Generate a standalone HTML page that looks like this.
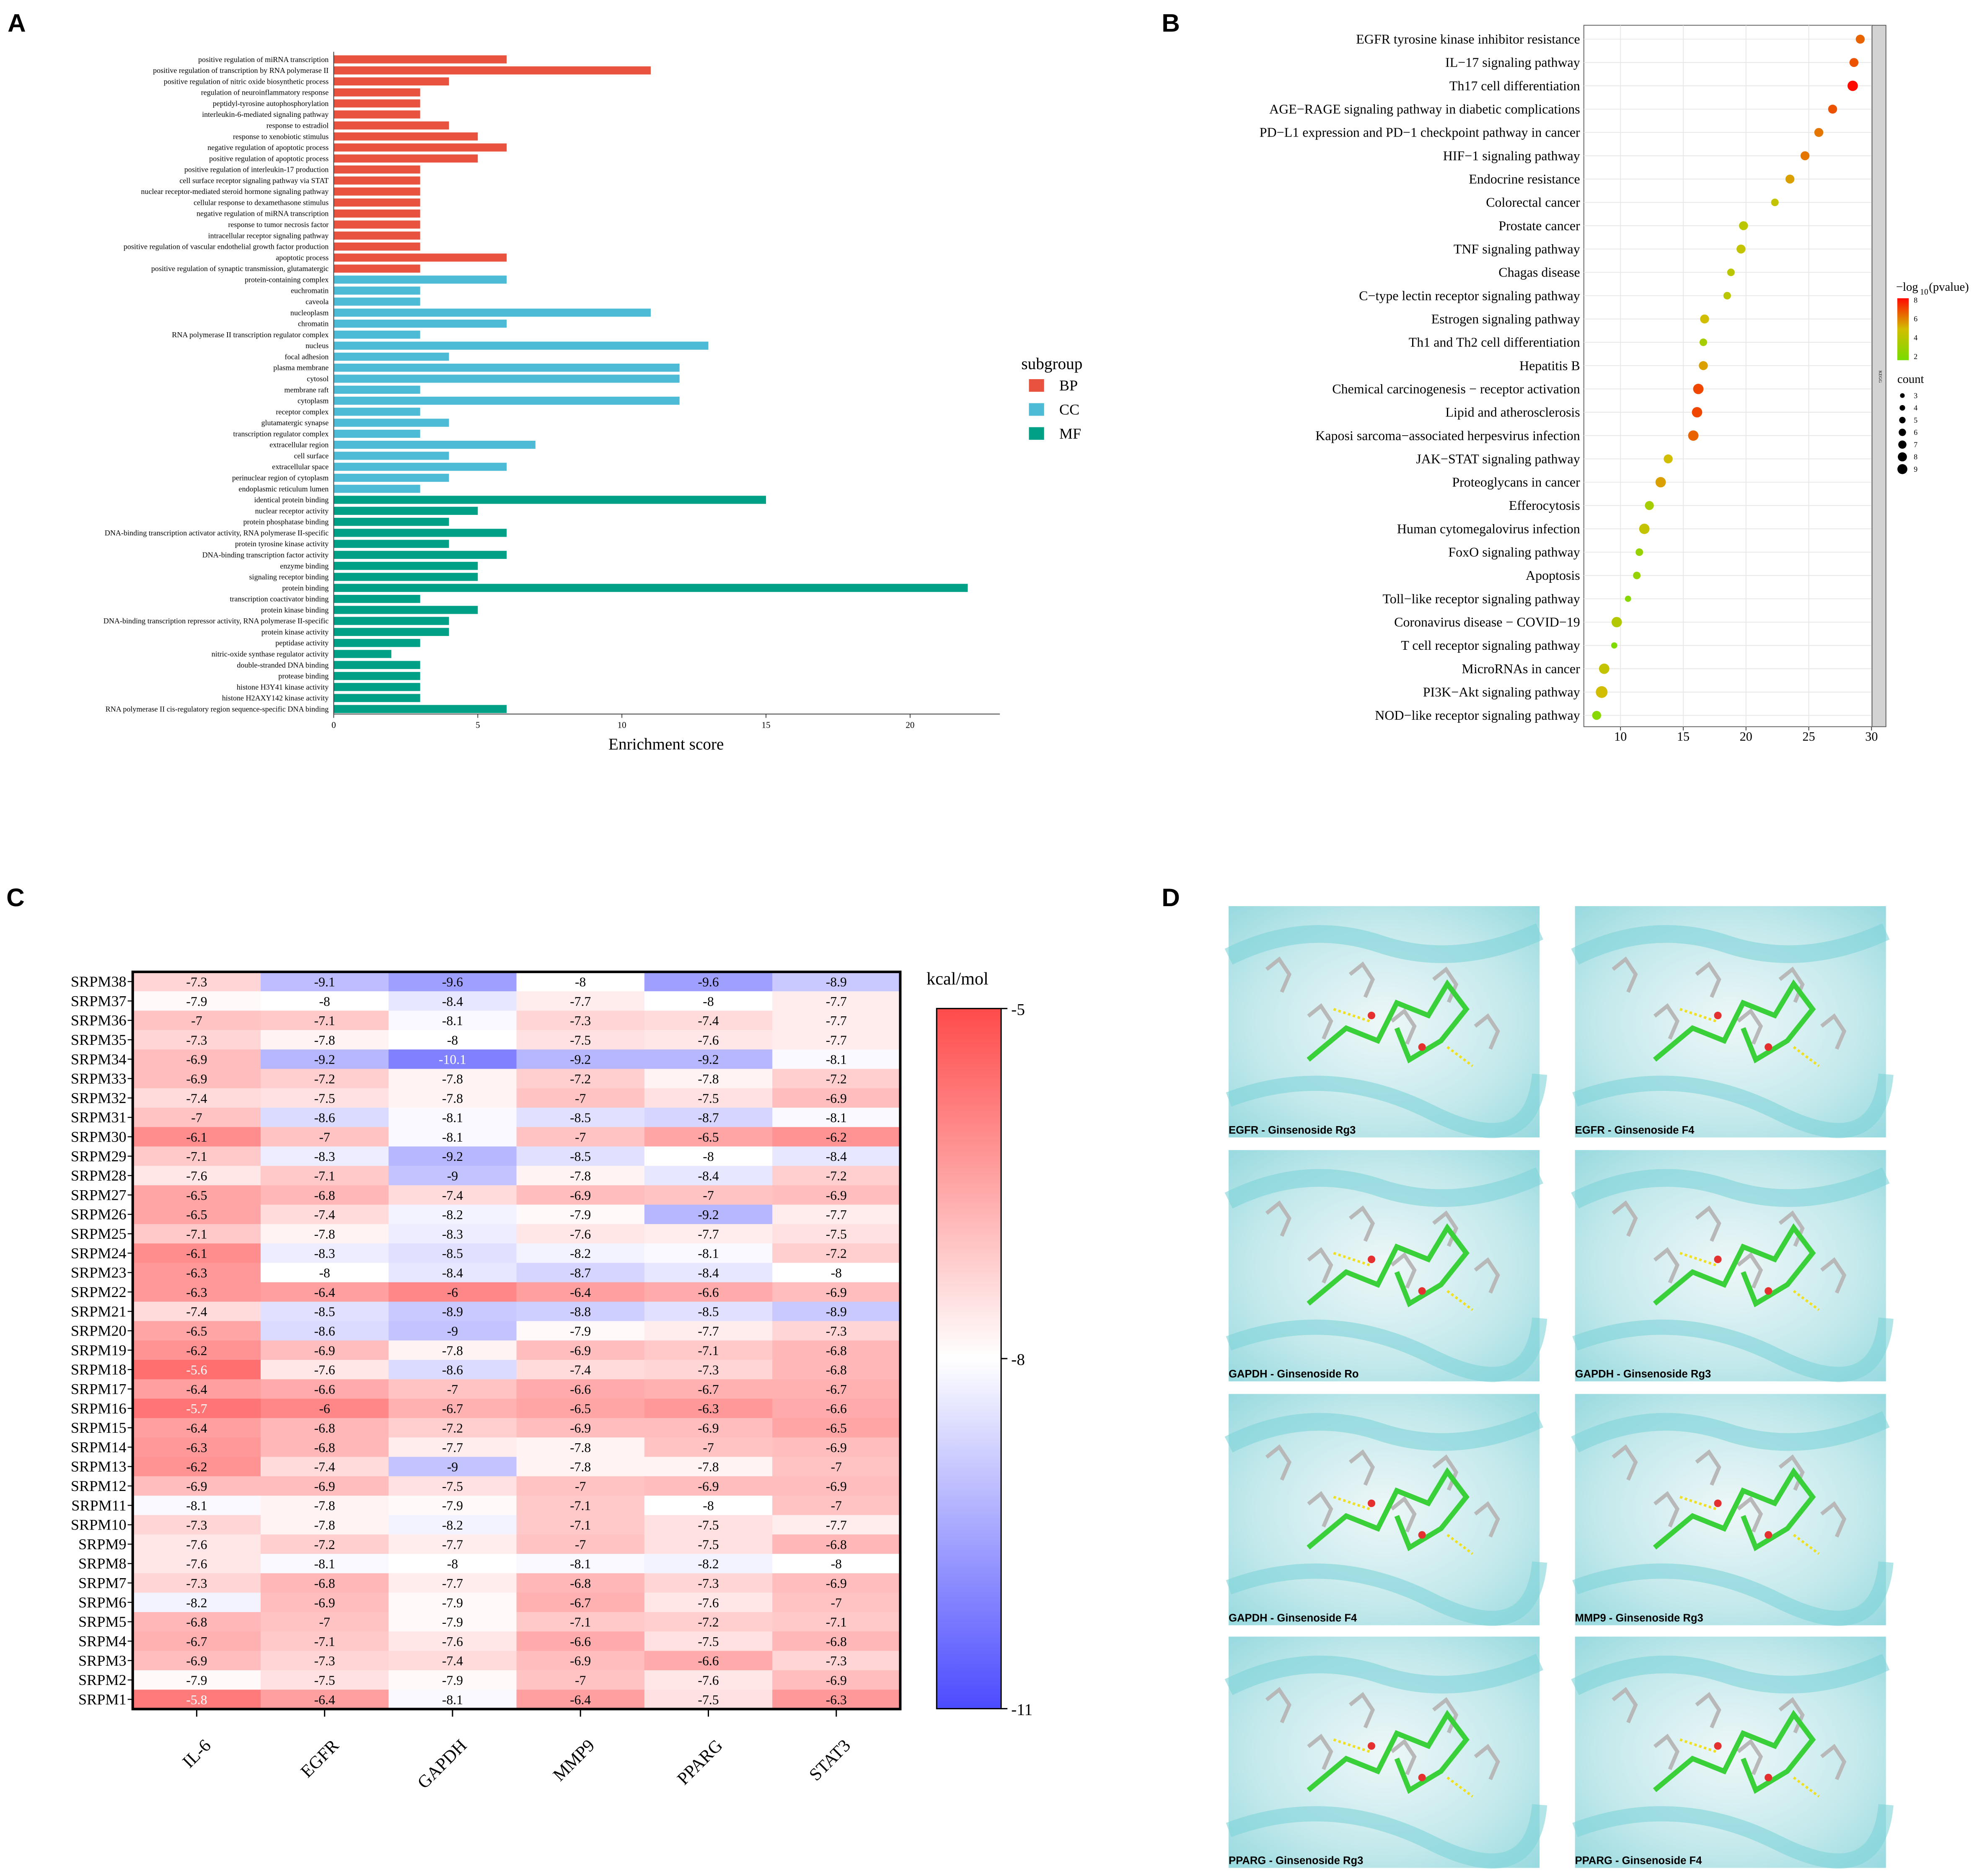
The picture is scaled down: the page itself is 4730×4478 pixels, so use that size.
<!DOCTYPE html>
<html><head><meta charset="utf-8"><title>Figure</title>
<style>
html,body{margin:0;padding:0;background:#fff;}
svg{display:block;}
text{font-family:"Liberation Serif",serif;}
.sans{font-family:"Liberation Sans",sans-serif;}
</style></head>
<body>
<svg id="fig" width="4730" height="4478" viewBox="0 0 1568 1484.4" preserveAspectRatio="none" xmlns="http://www.w3.org/2000/svg">
<rect x="0" y="0" width="1568" height="1484.4" fill="#fff"/>
<text class="sans" x="6" y="25" font-size="20" font-weight="bold">A</text>
<text class="sans" x="919" y="25" font-size="20" font-weight="bold">B</text>
<text class="sans" x="5" y="717" font-size="20" font-weight="bold">C</text>
<text class="sans" x="919" y="717" font-size="20" font-weight="bold">D</text>
<g id="pa"></g>
<g id="pb"></g>
<g id="pc"></g>
<g id="pd"></g>
</svg>
<script>
// ---------- Panel A data ----------
const goTerms = ["positive regulation of miRNA transcription","positive regulation of transcription by RNA polymerase II","positive regulation of nitric oxide biosynthetic process","regulation of neuroinflammatory response","peptidyl-tyrosine autophosphorylation","interleukin-6-mediated signaling pathway","response to estradiol","response to xenobiotic stimulus","negative regulation of apoptotic process","positive regulation of apoptotic process","positive regulation of interleukin-17 production","cell surface receptor signaling pathway via STAT","nuclear receptor-mediated steroid hormone signaling pathway","cellular response to dexamethasone stimulus","negative regulation of miRNA transcription","response to tumor necrosis factor","intracellular receptor signaling pathway","positive regulation of vascular endothelial growth factor production","apoptotic process","positive regulation of synaptic transmission, glutamatergic","protein-containing complex","euchromatin","caveola","nucleoplasm","chromatin","RNA polymerase II transcription regulator complex","nucleus","focal adhesion","plasma membrane","cytosol","membrane raft","cytoplasm","receptor complex","glutamatergic synapse","transcription regulator complex","extracellular region","cell surface","extracellular space","perinuclear region of cytoplasm","endoplasmic reticulum lumen","identical protein binding","nuclear receptor activity","protein phosphatase binding","DNA-binding transcription activator activity, RNA polymerase II-specific","protein tyrosine kinase activity","DNA-binding transcription factor activity","enzyme binding","signaling receptor binding","protein binding","transcription coactivator binding","protein kinase binding","DNA-binding transcription repressor activity, RNA polymerase II-specific","protein kinase activity","peptidase activity","nitric-oxide synthase regulator activity","double-stranded DNA binding","protease binding","histone H3Y41 kinase activity","histone H2AXY142 kinase activity","RNA polymerase II cis-regulatory region sequence-specific DNA binding"];
const goScores = [6,11,4,3,3,3,4,5,6,5,3,3,3,3,3,3,3,3,6,3,6,3,3,11,6,3,13,4,12,12,3,12,3,4,3,7,4,6,4,3,15,5,4,6,4,6,5,5,22,3,5,4,4,3,2,3,3,3,3,6];
const goGroups = ["BP","BP","BP","BP","BP","BP","BP","BP","BP","BP","BP","BP","BP","BP","BP","BP","BP","BP","BP","BP","CC","CC","CC","CC","CC","CC","CC","CC","CC","CC","CC","CC","CC","CC","CC","CC","CC","CC","CC","CC","MF","MF","MF","MF","MF","MF","MF","MF","MF","MF","MF","MF","MF","MF","MF","MF","MF","MF","MF","MF"];
const goTicks = [0,5,10,15,20];
// ---------- Panel B data ----------
const keggPaths = ["EGFR tyrosine kinase inhibitor resistance","IL−17 signaling pathway","Th17 cell differentiation","AGE−RAGE signaling pathway in diabetic complications","PD−L1 expression and PD−1 checkpoint pathway in cancer","HIF−1 signaling pathway","Endocrine resistance","Colorectal cancer","Prostate cancer","TNF signaling pathway","Chagas disease","C−type lectin receptor signaling pathway","Estrogen signaling pathway","Th1 and Th2 cell differentiation","Hepatitis B","Chemical carcinogenesis − receptor activation","Lipid and atherosclerosis","Kaposi sarcoma−associated herpesvirus infection","JAK−STAT signaling pathway","Proteoglycans in cancer","Efferocytosis","Human cytomegalovirus infection","FoxO signaling pathway","Apoptosis","Toll−like receptor signaling pathway","Coronavirus disease − COVID−19","T cell receptor signaling pathway","MicroRNAs in cancer","PI3K−Akt signaling pathway","NOD−like receptor signaling pathway"];
const keggX = [29.1,28.6,28.5,26.9,25.8,24.7,23.5,22.3,19.8,19.6,18.8,18.5,16.7,16.6,16.6,16.2,16.1,15.8,13.8,13.2,12.3,11.9,11.5,11.3,10.6,9.7,9.5,8.7,8.5,8.1];
const keggP = [6.5,6.8,8,6.8,6.2,6.2,5.5,4.5,4.2,4.5,4.2,4.2,5,3.5,5.5,7,7,6.5,5,5.5,3.5,4.5,3,3,2.5,4,2.2,4.5,5,2.5];
const keggCount = [5,5,6,5,5,5,5,4,5,5,4,4,5,4,5,6,6,6,5,6,5,6,4,4,3,6,3,6,7,5];
const keggTicks = [10,15,20,25,30];
// ---------- Panel C data ----------
const hmRows = ["SRPM38","SRPM37","SRPM36","SRPM35","SRPM34","SRPM33","SRPM32","SRPM31","SRPM30","SRPM29","SRPM28","SRPM27","SRPM26","SRPM25","SRPM24","SRPM23","SRPM22","SRPM21","SRPM20","SRPM19","SRPM18","SRPM17","SRPM16","SRPM15","SRPM14","SRPM13","SRPM12","SRPM11","SRPM10","SRPM9","SRPM8","SRPM7","SRPM6","SRPM5","SRPM4","SRPM3","SRPM2","SRPM1"];
const hmCols = ["IL-6","EGFR","GAPDH","MMP9","PPARG","STAT3"];
const hmVals = [
[-7.3,-9.1,-9.6,-8,-9.6,-8.9],[-7.9,-8,-8.4,-7.7,-8,-7.7],[-7,-7.1,-8.1,-7.3,-7.4,-7.7],[-7.3,-7.8,-8,-7.5,-7.6,-7.7],
[-6.9,-9.2,-10.1,-9.2,-9.2,-8.1],[-6.9,-7.2,-7.8,-7.2,-7.8,-7.2],[-7.4,-7.5,-7.8,-7,-7.5,-6.9],[-7,-8.6,-8.1,-8.5,-8.7,-8.1],
[-6.1,-7,-8.1,-7,-6.5,-6.2],[-7.1,-8.3,-9.2,-8.5,-8,-8.4],[-7.6,-7.1,-9,-7.8,-8.4,-7.2],[-6.5,-6.8,-7.4,-6.9,-7,-6.9],
[-6.5,-7.4,-8.2,-7.9,-9.2,-7.7],[-7.1,-7.8,-8.3,-7.6,-7.7,-7.5],[-6.1,-8.3,-8.5,-8.2,-8.1,-7.2],[-6.3,-8,-8.4,-8.7,-8.4,-8],
[-6.3,-6.4,-6,-6.4,-6.6,-6.9],[-7.4,-8.5,-8.9,-8.8,-8.5,-8.9],[-6.5,-8.6,-9,-7.9,-7.7,-7.3],[-6.2,-6.9,-7.8,-6.9,-7.1,-6.8],
[-5.6,-7.6,-8.6,-7.4,-7.3,-6.8],[-6.4,-6.6,-7,-6.6,-6.7,-6.7],[-5.7,-6,-6.7,-6.5,-6.3,-6.6],[-6.4,-6.8,-7.2,-6.9,-6.9,-6.5],
[-6.3,-6.8,-7.7,-7.8,-7,-6.9],[-6.2,-7.4,-9,-7.8,-7.8,-7],[-6.9,-6.9,-7.5,-7,-6.9,-6.9],[-8.1,-7.8,-7.9,-7.1,-8,-7],
[-7.3,-7.8,-8.2,-7.1,-7.5,-7.7],[-7.6,-7.2,-7.7,-7,-7.5,-6.8],[-7.6,-8.1,-8,-8.1,-8.2,-8],[-7.3,-6.8,-7.7,-6.8,-7.3,-6.9],
[-8.2,-6.9,-7.9,-6.7,-7.6,-7],[-6.8,-7,-7.9,-7.1,-7.2,-7.1],[-6.7,-7.1,-7.6,-6.6,-7.5,-6.8],[-6.9,-7.3,-7.4,-6.9,-6.6,-7.3],
[-7.9,-7.5,-7.9,-7,-7.6,-6.9],[-5.8,-6.4,-8.1,-6.4,-7.5,-6.3]];
const hmScaleTicks = [-5,-8,-11];
// ---------- Panel D data ----------
const dockLabels = ["EGFR - Ginsenoside Rg3","EGFR - Ginsenoside F4","GAPDH - Ginsenoside Ro","GAPDH - Ginsenoside Rg3","GAPDH - Ginsenoside F4","MMP9 - Ginsenoside Rg3","PPARG - Ginsenoside Rg3","PPARG - Ginsenoside F4"];

const NS="http://www.w3.org/2000/svg";
function mk(parent,tag,attrs,txt){const e=document.createElementNS(NS,tag);for(const k in attrs)e.setAttribute(k,attrs[k]);if(txt!==undefined)e.textContent=txt;parent.appendChild(e);return e;}

// ===== Panel A =====
(function(){
const g=document.getElementById('pa');
const x0=264,pxu=22.8,y0=47,pitch=8.712;
const xA=v=>x0+v*pxu, yA=i=>y0+i*pitch;
const col={BP:"#e8533f",CC:"#4dbbd5",MF:"#00a087"};
for(let i=0;i<goTerms.length;i++){
  const r=mk(g,'rect',{x:x0,y:yA(i)-3.2,width:xA(goScores[i])-x0,height:6.4,fill:col[goGroups[i]]});
  
  
  const t=mk(g,'text',{x:x0-4,y:yA(i)+2,'font-size':6,'text-anchor':'end'},goTerms[i]);
  
  
}
mk(g,'line',{x1:x0,y1:41,x2:x0,y2:565,stroke:'#333','stroke-width':0.6});
mk(g,'line',{x1:x0,y1:565,x2:791,y2:565,stroke:'#333','stroke-width':0.6});
goTicks.forEach(v=>{
  mk(g,'line',{x1:xA(v),y1:565,x2:xA(v),y2:568,stroke:'#333','stroke-width':0.6});
  const t=mk(g,'text',{x:xA(v),y:576,'font-size':7,'text-anchor':'middle'},String(v));
  
  
});
const xt=mk(g,'text',{x:527,y:593,'font-size':13,'text-anchor':'middle'},'Enrichment score');


const lt=mk(g,'text',{x:808,y:292,'font-size':13},'subgroup');


["BP","CC","MF"].forEach((k,j)=>{
  const yy=300+j*19;
  const s=mk(g,'rect',{x:814,y:yy,width:12,height:10,fill:col[k]});
  
  
  const t=mk(g,'text',{x:838,y:yy+9,'font-size':12},k);
  
  
});
})();

// ===== Panel B =====
(function(){
const g=document.getElementById('pb');
const L=1253,R=1481,T=20,B=575;
const xB=v=>1282+(v-10)*9.93, yB=i=>31+i*18.45;
mk(g,'rect',{x:L,y:T,width:R-L,height:B-T,fill:'#fff',stroke:'#555','stroke-width':0.6});
keggTicks.forEach(v=>mk(g,'line',{x1:xB(v),y1:T,x2:xB(v),y2:B,stroke:'#e6e6e6','stroke-width':0.6}));
keggPaths.forEach((p,i)=>mk(g,'line',{x1:L,y1:yB(i),x2:R,y2:yB(i),stroke:'#e6e6e6','stroke-width':0.6}));
const strip=mk(g,'rect',{x:R,y:T,width:11,height:B-T,fill:'#d3d3d3',stroke:'#555','stroke-width':0.6});


mk(g,'text',{x:R+5.5,y:298,'font-size':3.5,'text-anchor':'middle',transform:`rotate(90 ${R+5.5} 298)`},'KEGG');
function pcol(p){const t=Math.max(0,Math.min(1,(p-2)/6));
  let r,gg,b;
  if(t<0.5){const u=t/0.5;r=Math.round(120+u*90);gg=Math.round(220-u*30);b=0;}
  else{const u=(t-0.5)/0.5;r=Math.round(210+u*45);gg=Math.round(190-u*180);b=0;}
  return `rgb(${r},${gg},${b})`;}
keggPaths.forEach((p,i)=>{
  const t=mk(g,'text',{x:L-3,y:yB(i)+3.5,'font-size':10.6,'text-anchor':'end'},p);
  
  
  const c=mk(g,'circle',{cx:xB(keggX[i]),cy:yB(i),r:0.8+keggCount[i]*0.55,fill:pcol(keggP[i])});
  
  
});
keggTicks.forEach(v=>{
  mk(g,'line',{x1:xB(v),y1:B,x2:xB(v),y2:B+3,stroke:'#333','stroke-width':0.6});
  const t=mk(g,'text',{x:xB(v),y:B+11,'font-size':10,'text-anchor':'middle'},String(v));
  
  
});
const lt=mk(g,'text',{x:1500,y:230,'font-size':9.5},'−log');


mk(g,'text',{x:1519,y:233,'font-size':6.5},'10');
mk(g,'text',{x:1526,y:230,'font-size':9.5},'(pvalue)');
const defs=mk(g,'defs',{});
const lg=mk(defs,'linearGradient',{id:'pg',x1:0,y1:1,x2:0,y2:0});
[[0,'#78dc00'],[0.5,'#d2be00'],[1,'#ff0a00']].forEach(s=>mk(lg,'stop',{offset:s[0],'stop-color':s[1]}));
const cb=mk(g,'rect',{x:1501,y:236,width:9,height:49,fill:'url(#pg)'});


[8,6,4,2].forEach(v=>{const yy=285-(v-1.6)/6.6*49;
  mk(g,'text',{x:1514,y:yy+2,'font-size':6},String(v));});
const ct=mk(g,'text',{x:1501,y:303,'font-size':9.5},'count');


[3,4,5,6,7,8,9].forEach((v,j)=>{const yy=313+j*9.7;
  const c=mk(g,'circle',{cx:1505,cy:yy,r:0.8+v*0.35,fill:'#000'});
  
  
  mk(g,'text',{x:1514,y:yy+2,'font-size':6},String(v));});
})();

// ===== Panel C =====
(function(){
const g=document.getElementById('pc');
const L=105,T=769,cw=101.2,rh=15.35;
const xC=j=>L+j*cw, yC=i=>T+i*rh;
function hcol(v){const t=Math.max(-1,Math.min(1,(v+8)/3));
  if(t>=0){const r=255,gg=Math.round(255-t*180),b=Math.round(255-t*180);return `rgb(${r},${gg},${b})`;}
  const u=-t;return `rgb(${Math.round(255-u*180)},${Math.round(255-u*180)},255)`;}
hmVals.forEach((row,i)=>{
  const lab=mk(g,'text',{x:L-5,y:yC(i)+rh/2+4,'font-size':12,'text-anchor':'end'},hmRows[i]);
  
  
  mk(g,'line',{x1:L-4,y1:yC(i)+rh/2,x2:L,y2:yC(i)+rh/2,stroke:'#000','stroke-width':0.8});
  row.forEach((v,j)=>{
    const c=mk(g,'rect',{x:xC(j),y:yC(i),width:cw+0.3,height:rh+0.3,fill:hcol(v)});
    
    
    const t=mk(g,'text',{x:xC(j)+cw/2,y:yC(i)+rh/2+3.8,'font-size':10.5,'text-anchor':'middle',fill:(v>-5.9||v<-9.95)?'#fff':'#000'},String(v));
    
    
  });
});
mk(g,'rect',{x:L,y:T,width:cw*6,height:rh*38,fill:'none',stroke:'#000','stroke-width':2});
hmCols.forEach((c,j)=>{
  const cx=xC(j)+cw/2;
  mk(g,'line',{x1:cx,y1:T+rh*38,x2:cx,y2:T+rh*38+6,stroke:'#000','stroke-width':1});
  const t=mk(g,'text',{x:cx+12,y:1382,'font-size':14,'text-anchor':'end',transform:`rotate(-45 ${cx+12} 1382)`},c);
  
  
});
const defs=mk(g,'defs',{});
const lg=mk(defs,'linearGradient',{id:'hg',x1:0,y1:0,x2:0,y2:1});
[[0,'#ff4b4b'],[0.5,'#ffffff'],[1,'#4b4bff']].forEach(s=>mk(lg,'stop',{offset:s[0],'stop-color':s[1]}));
const cb=mk(g,'rect',{x:741,y:798,width:51,height:554,fill:'url(#hg)',stroke:'#000','stroke-width':1});


hmScaleTicks.forEach(v=>{const yy=798+(-5-v)/6*554;
  mk(g,'line',{x1:792,y1:yy,x2:797,y2:yy,stroke:'#000','stroke-width':1});
  const t=mk(g,'text',{x:800,y:yy+5,'font-size':13},String(v));
  
  });
const u=mk(g,'text',{x:733,y:779,'font-size':14},'kcal/mol');


})();

// ===== Panel D =====
(function(){
const g=document.getElementById('pd');
const xs=[972,1246], ys=[717,910,1103,1295], w=246, h=183;
const defs=mk(g,'defs',{});
const rg=mk(defs,'radialGradient',{id:'dg',cx:'50%',cy:'50%',r:'70%'});
mk(rg,'stop',{offset:0,'stop-color':'#eef7f8'});
mk(rg,'stop',{offset:0.6,'stop-color':'#c4e9ec'});
mk(rg,'stop',{offset:1,'stop-color':'#98dadf'});
dockLabels.forEach((lab,k)=>{
  const x=xs[k%2], y=ys[Math.floor(k/2)];
  const p=mk(g,'g',{});
  
  
  mk(p,'rect',{x:x,y:y,width:w,height:h,fill:'url(#dg)'});
  mk(p,'path',{d:`M${x} ${y+40} Q${x+60} ${y+10} ${x+120} ${y+30} T${x+w} ${y+20}`,stroke:'#7fd3d8','stroke-width':14,fill:'none',opacity:0.6});
  mk(p,'path',{d:`M${x} ${y+h-30} Q${x+80} ${y+h-60} ${x+160} ${y+h-20} T${x+w} ${y+h-50}`,stroke:'#7fd3d8','stroke-width':12,fill:'none',opacity:0.6});
  for(let q=0;q<6;q++){
    const ax=x+30+q*33, ay=y+50+((q*37)%70);
    mk(p,'path',{d:`M${ax} ${ay} l10 -8 l8 12 l-6 14`,stroke:'#b8b8b8','stroke-width':3,fill:'none'});
  }
  const cx=x+w/2+10, cy=y+h/2;
  mk(p,'path',{d:`M${cx-70} ${cy+30} L${cx-40} ${cy+5} L${cx-15} ${cy+15} L${cx} ${cy-15} L${cx+25} ${cy-5} L${cx+40} ${cy-30} L${cx+55} ${cy-10} L${cx+35} ${cy+15} L${cx+10} ${cy+30} L${cx} ${cy+5}`,stroke:'#3ad03a','stroke-width':4,fill:'none'});
  mk(p,'circle',{cx:cx+20,cy:cy+20,r:3,fill:'#e53030'});
  mk(p,'circle',{cx:cx-20,cy:cy-5,r:3,fill:'#e53030'});
  mk(p,'path',{d:`M${cx-50} ${cy-10} l30 10 M${cx+40} ${cy+20} l20 15`,stroke:'#f0e020','stroke-width':2,'stroke-dasharray':'2 2'});
  const t=mk(g,'text',{class:'sans',x:x,y:y+h-3,'font-size':8.5,'font-weight':'bold'},lab);
  
  
});
})();
</script>
</body></html>
